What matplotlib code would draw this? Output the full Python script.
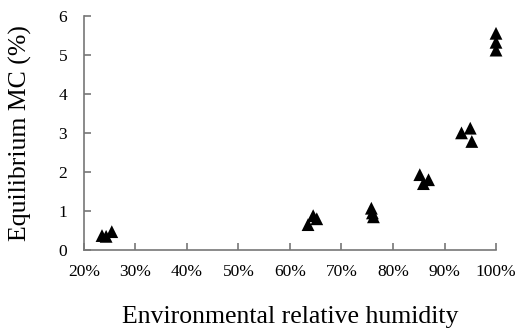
import matplotlib
matplotlib.use("Agg")
import matplotlib.pyplot as plt
from matplotlib.ticker import FuncFormatter

rh = [0.235, 0.243, 0.254,
      0.635, 0.645, 0.652,
      0.758, 0.760, 0.762,
      0.852, 0.859, 0.869,
      0.933, 0.950, 0.953,
      1.000, 1.000, 1.000]
mc = [0.37, 0.35, 0.47,
      0.65, 0.88, 0.80,
      1.07, 0.95, 0.85,
      1.93, 1.70, 1.80,
      3.00, 3.12, 2.78,
      5.55, 5.32, 5.12]

xticks = [0.2, 0.3, 0.4, 0.5, 0.6, 0.7, 0.8, 0.9, 1.0]
yticks = [0, 1, 2, 3, 4, 5, 6]

plt.rcParams['font.family'] = ['Liberation Serif', 'DejaVu Serif']

fig = plt.figure(figsize=(5.19, 3.35), dpi=100)
ax = fig.add_axes([0.1618, 0.2537, 0.7939, 0.6993])
ax.scatter(rh, mc, marker='^', s=85, color='black', edgecolors='none', zorder=3, clip_on=False)
ax.set_xlim(0.2, 1.0)
ax.set_ylim(0, 6)
ax.set_xticks(xticks)
ax.set_yticks(yticks)
ax.xaxis.set_major_formatter(FuncFormatter(lambda v, p: f"{round(v*100)}%"))
for s in ['top', 'right']:
    ax.spines[s].set_visible(False)
for s in ['left', 'bottom']:
    ax.spines[s].set_color('#777777')
    ax.spines[s].set_linewidth(1.2)
ax.tick_params(axis='both', direction='in', length=5, width=1.2, color='#777777',
               labelsize=12.5, labelcolor='black')
ax.tick_params(axis='x', pad=10)
ax.tick_params(axis='y', pad=12)
ax.set_xlabel('Environmental relative humidity', fontsize=18.5, labelpad=19)
ax.set_ylabel('Equilibrium MC (%)', fontsize=18.5, labelpad=19)
fig.savefig('out.png', dpi=100)
